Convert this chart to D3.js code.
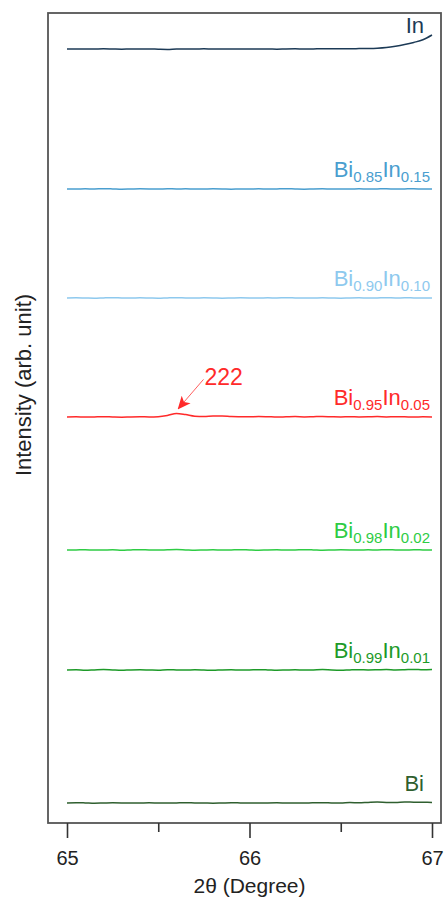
<!DOCTYPE html>
<html lang="en">
<head>
    <title>XRD 2theta 65-67</title>
    <script src="https://d3js.org/d3.v7.min.js"></script>
    <style>
        body { margin: 0; background: #fff; }
        text { font-family: "Liberation Sans", Arial, sans-serif; }
    </style>
</head>
<body>
<script>
    // 2theta sampling grid (degree)
    const twoTheta = [65.00,65.05,65.10,65.15,65.20,65.25,65.30,65.35,65.40,65.45,
                      65.50,65.55,65.60,65.65,65.70,65.75,65.80,65.85,65.90,65.95,
                      66.00,66.05,66.10,66.15,66.20,66.25,66.30,66.35,66.40,66.45,
                      66.50,66.55,66.60,66.65,66.70,66.75,66.80,66.85,66.90,66.95,67.00];

    // sample names (bottom to top), split for subscripts
    const names   = ["Bi", "Bi0.99In0.01", "Bi0.98In0.02", "Bi0.95In0.05", "Bi0.90In0.10", "Bi0.85In0.15", "In"];
    const labelParts = [
        [["Bi", false]],
        [["Bi", false], ["0.99", true], ["In", false], ["0.01", true]],
        [["Bi", false], ["0.98", true], ["In", false], ["0.02", true]],
        [["Bi", false], ["0.95", true], ["In", false], ["0.05", true]],
        [["Bi", false], ["0.90", true], ["In", false], ["0.10", true]],
        [["Bi", false], ["0.85", true], ["In", false], ["0.15", true]],
        [["In", false]]
    ];
    const colors  = ["#2f5f2f", "#1d9a28", "#2ecc44", "#ff2a2a", "#8ec9ee", "#4a9ecf", "#1c3a56"];
    // vertical stacking offsets (arb. unit)
    const offsets = [2.0, 15.3, 27.3, 40.6, 52.5, 63.4, 77.4];

    // intensities (arb. unit) above each offset
    const iBi   = [0.00,0.03,0.01,-0.02,0.00,0.02,0.01,-0.01,0.00,0.02,0.00,-0.01,0.01,0.03,0.01,0.00,-0.02,0.00,0.02,0.01,
                   0.00,-0.01,0.01,0.02,0.00,-0.01,0.00,0.02,0.03,0.01,0.00,0.04,0.02,0.06,0.09,0.06,0.05,0.10,0.08,0.07,0.06];
    const iBi99 = [0.00,0.02,-0.02,0.01,0.04,0.00,-0.03,0.01,0.02,0.00,-0.02,0.03,0.01,-0.01,0.02,0.00,-0.03,0.01,0.02,-0.01,
                   0.00,0.03,0.01,-0.02,0.00,0.02,-0.01,0.01,0.04,0.00,-0.02,0.01,0.03,0.00,0.02,0.05,0.01,0.03,0.06,0.02,0.04];
    const iBi98 = [0.00,0.01,0.03,-0.01,0.00,0.02,-0.02,0.01,0.03,0.00,-0.01,0.02,0.04,0.01,-0.02,0.00,0.02,-0.01,0.01,0.03,
                   0.00,-0.02,0.01,0.02,-0.01,0.00,0.03,0.01,-0.02,0.00,0.02,0.01,-0.01,0.02,0.00,0.03,0.01,-0.01,0.02,0.01,0.00];
    const iBi95 = [0.00,0.02,-0.01,0.01,0.03,0.00,-0.02,0.01,0.02,0.01,0.03,0.15,0.36,0.24,0.08,0.05,0.10,0.11,0.05,0.03,
                   0.02,0.05,0.03,0.00,0.02,0.04,0.01,0.03,0.05,0.02,0.00,0.03,0.01,0.02,0.04,0.01,0.03,0.02,0.00,0.02,0.01];
    const iBi90 = [0.00,0.02,0.00,-0.02,0.01,0.03,0.00,-0.01,0.02,0.00,-0.02,0.01,0.03,0.00,-0.01,0.02,0.01,-0.02,0.00,0.02,
                   0.01,-0.01,0.02,0.00,0.03,0.01,-0.01,0.00,0.02,0.00,-0.02,0.01,0.02,0.00,0.01,0.03,0.00,0.02,0.01,0.00,0.01];
    const iBi85 = [0.00,-0.01,0.02,0.00,0.03,0.01,-0.02,0.00,0.02,0.01,-0.01,0.03,0.00,0.02,-0.01,0.00,0.02,0.01,-0.02,0.01,
                   0.00,0.02,-0.01,0.01,0.03,0.00,-0.02,0.01,0.02,0.00,0.01,-0.01,0.02,0.00,0.01,0.02,0.00,0.01,0.02,0.00,0.01];
    const iIn   = [0.00,0.01,-0.01,0.00,0.02,0.00,-0.02,0.01,0.00,0.01,-0.02,-0.04,0.00,0.01,-0.01,0.02,0.00,0.01,0.00,-0.01,
                   0.01,0.00,0.00,-0.02,0.01,0.02,0.00,0.01,0.03,0.02,0.03,0.03,0.04,0.05,0.08,0.15,0.28,0.45,0.66,0.92,1.40];
    const intensities = [iBi, iBi99, iBi98, iBi95, iBi90, iBi85, iIn];

    // peak annotation
    const peakLabel  = "222";
    const peakSeries = 3;
    const peakIndex  = 12;

    const xTicks = [65, 66, 67];
    const xMinorTicks = [65.5, 66.5];

    // Set Dimensions
    const width = 445, height = 903;
    const frame = {left: 48, right: 441, top: 13, bottom: 823};

    const svg = d3.select("body")
                  .append("svg")
                  .attr("width", width)
                  .attr("height", height);

    // scales
    const x = d3.scaleLinear().domain([65, 67]).range([67, 432]);
    const y = d3.scaleLinear().domain([0, 81]).range([frame.bottom, frame.top]);

    // arrow head
    svg.append("defs").append("marker")
       .attr("id", "arrowHead")
       .attr("viewBox", "0 0 10 10")
       .attr("refX", 9).attr("refY", 5)
       .attr("markerWidth", 13).attr("markerHeight", 13)
       .attr("markerUnits", "userSpaceOnUse")
       .attr("orient", "auto")
       .append("path")
       .attr("d", "M0,0.5 L10,5 L0,9.5 L2.5,5 Z")
       .attr("fill", "#ff2a2a");

    // lines
    const line = d3.line()
                   .x(function(d) { return x(d.x) })
                   .y(function(d) { return y(d.y) })
                   .curve(d3.curveMonotoneX);

    intensities.forEach(function(vals, k) {
        const data = vals.map(function(v, i) { return {x: twoTheta[i], y: offsets[k] + v} });
        svg.append("path")
           .datum(data)
           .attr("fill", "none")
           .attr("stroke", colors[k])
           .attr("stroke-width", 1.5)
           .attr("d", line);

        // series label (pure elements sit a bit to the left / higher)
        const single = labelParts[k].length === 1;
        const t = svg.append("text")
                     .attr("x", single ? 424 : 430)
                     .attr("y", y(offsets[k]) - (k === 6 ? 16 : 12))
                     .attr("text-anchor", "end")
                     .attr("fill", colors[k])
                     .attr("font-size", 22);
        let lastSub = false;
        labelParts[k].forEach(function(p) {
            const ts = t.append("tspan").text(p[0]);
            if (p[1]) ts.attr("font-size", 15).attr("dy", 5);
            else if (lastSub) ts.attr("dy", -5);
            lastSub = p[1];
        });
    });

    // peak arrow + label
    const px = twoTheta[peakIndex];
    const py = offsets[peakSeries] + intensities[peakSeries][peakIndex];
    svg.append("line")
       .attr("x1", x(px) + 27).attr("y1", y(py) - 34)
       .attr("x2", x(px) + 2).attr("y2", y(py) - 5)
       .attr("stroke", "#ff6060")
       .attr("stroke-width", 1)
       .attr("marker-end", "url(#arrowHead)");
    svg.append("text")
       .attr("x", x(px) + 28)
       .attr("y", y(py) - 28)
       .attr("fill", "#ff2a2a")
       .attr("font-size", 23)
       .text(peakLabel);

    // frame
    svg.append("rect")
       .attr("x", frame.left).attr("y", frame.top)
       .attr("width", frame.right - frame.left)
       .attr("height", frame.bottom - frame.top)
       .attr("fill", "none")
       .attr("stroke", "#555")
       .attr("stroke-width", 1.8);

    // bottom axis, major ticks
    const xAxis = svg.append("g")
       .attr("transform", "translate(0," + frame.bottom + ")")
       .call(d3.axisBottom(x).tickValues(xTicks).tickSize(15).tickPadding(13).tickFormat(d3.format("d")));
    xAxis.select(".domain").remove();
    xAxis.selectAll("line").attr("stroke", "#333").attr("stroke-width", 1.6);
    xAxis.selectAll("text").attr("font-size", 20).attr("fill", "#222")
         .attr("font-family", "'Liberation Sans', Arial, sans-serif");

    // minor ticks
    const xMinor = svg.append("g")
       .attr("transform", "translate(0," + frame.bottom + ")")
       .call(d3.axisBottom(x).tickValues(xMinorTicks).tickSize(9).tickFormat(""));
    xMinor.select(".domain").remove();
    xMinor.selectAll("line").attr("stroke", "#333").attr("stroke-width", 1.6);

    // axis titles
    svg.append("text")
       .attr("x", (x(65) + x(67)) / 2)
       .attr("y", 893)
       .attr("text-anchor", "middle")
       .attr("font-size", 21)
       .attr("fill", "#222")
       .text("2θ (Degree)");

    svg.append("text")
       .attr("transform", "translate(31,385) rotate(-90)")
       .attr("text-anchor", "middle")
       .attr("font-size", 22)
       .attr("fill", "#222")
       .text("Intensity (arb. unit)");
</script>
</body>
</html>
